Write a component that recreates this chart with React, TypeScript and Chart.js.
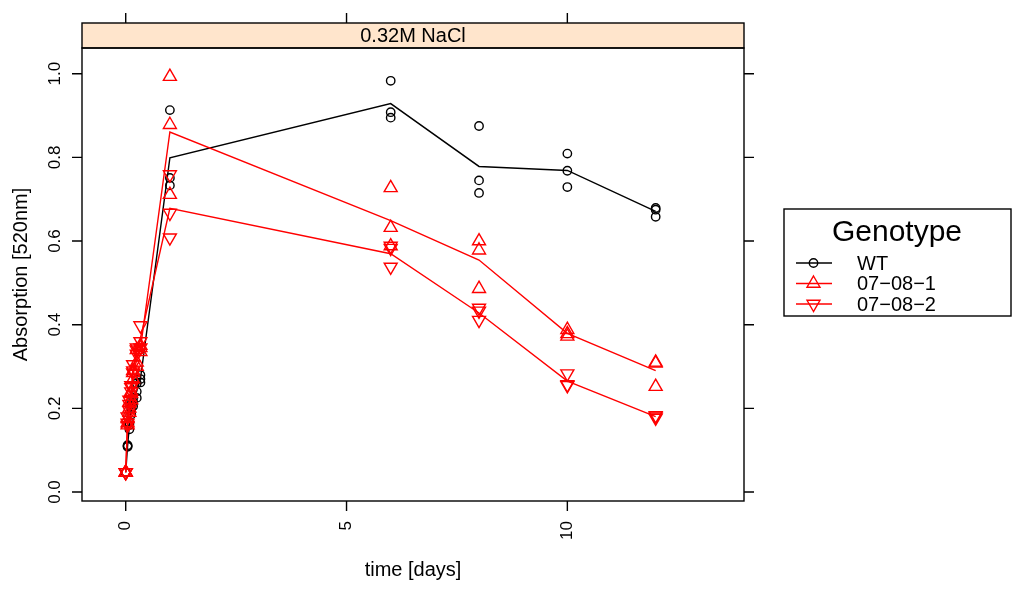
import { useEffect, useRef } from 'react'
import { Chart, registerables } from 'chart.js'
import type { Plugin } from 'chart.js'

Chart.register(...registerables)

// sampling times in days (0h, 1h, 2h, 3h, 4h, 6h, 8h, then days)
const days = [0, 0.042, 0.083, 0.125, 0.167, 0.25, 0.333, 1, 6, 8, 10, 12]

// three replicates per genotype
const wtA = [0.047, 0.108, 0.15, 0.2, 0.215, 0.225, 0.262, 0.913, 0.983, 0.875, 0.809, 0.679]
const wtB = [0.047, 0.112, 0.16, 0.185, 0.225, 0.26, 0.28, 0.751, 0.908, 0.745, 0.768, 0.658]
const wtC = [0.047, 0.11, 0.165, 0.21, 0.205, 0.24, 0.27, 0.733, 0.895, 0.715, 0.729, 0.675]

const l1A = [0.047, 0.16, 0.2, 0.24, 0.285, 0.3, 0.345, 0.993, 0.727, 0.6, 0.388, 0.31]
const l1B = [0.047, 0.175, 0.215, 0.22, 0.27, 0.34, 0.35, 0.878, 0.632, 0.578, 0.378, 0.308]
const l1C = [0.047, 0.165, 0.19, 0.235, 0.29, 0.31, 0.335, 0.711, 0.588, 0.486, 0.372, 0.252]

const l2A = [0.047, 0.165, 0.21, 0.255, 0.29, 0.33, 0.398, 0.759, 0.588, 0.44, 0.283, 0.183]
const l2B = [0.047, 0.16, 0.195, 0.24, 0.305, 0.345, 0.345, 0.667, 0.583, 0.433, 0.257, 0.18]
const l2C = [0.047, 0.18, 0.22, 0.25, 0.285, 0.34, 0.36, 0.608, 0.538, 0.411, 0.255, 0.177]

const genotypes = ['WT', '07−08−1', '07−08−2']
const xTicks = [0, 5, 10]
const yTicks = [0, 0.2, 0.4, 0.6, 0.8, 1.0]
const yTickLabels = ['0.0', '0.2', '0.4', '0.6', '0.8', '1.0']

const FONT = '"Liberation Sans", Arial, Helvetica, sans-serif'
const RED = '#ff0000'
const BLACK = '#000000'

function points(reps: number[][]) {
  return days.flatMap((d, i) => reps.map((r) => ({ x: d, y: r[i] })))
}

function means(reps: number[][]) {
  return days.map((d, i) => ({ x: d, y: reps.reduce((s, r) => s + r[i], 0) / reps.length }))
}

function marker(ctx: CanvasRenderingContext2D, kind: number, x: number, y: number) {
  ctx.beginPath()
  if (kind === 0) {
    ctx.arc(x, y, 4.2, 0, Math.PI * 2)
  } else {
    const r = 7.5
    const flip = kind === 2 ? Math.PI : 0
    for (let k = 0; k < 3; k++) {
      const a = flip + (k * 2 * Math.PI) / 3
      const px = x + Math.sin(a) * r
      const py = y - Math.cos(a) * r
      if (k === 0) ctx.moveTo(px, py)
      else ctx.lineTo(px, py)
    }
    ctx.closePath()
  }
  ctx.stroke()
}

const frame: Plugin<'scatter'> = {
  id: 'frame',
  afterDraw(chart) {
    const { ctx, chartArea: a, scales } = chart
    const xs = scales.x
    const ys = scales.y
    const stripTop = 23
    ctx.save()
    ctx.lineWidth = 1.4
    ctx.strokeStyle = BLACK

    // strip
    ctx.fillStyle = '#ffe5cc'
    ctx.fillRect(a.left, stripTop, a.right - a.left, a.top - stripTop)
    ctx.strokeRect(a.left, stripTop, a.right - a.left, a.top - stripTop)
    ctx.strokeRect(a.left, a.top, a.right - a.left, a.bottom - a.top)

    ctx.fillStyle = BLACK
    ctx.font = `20px ${FONT}`
    ctx.textAlign = 'center'
    ctx.textBaseline = 'middle'
    ctx.fillText('0.32M NaCl', (a.left + a.right) / 2, (stripTop + a.top) / 2 + 1)

    // ticks
    ctx.beginPath()
    for (const t of xTicks) {
      const px = xs.getPixelForValue(t)
      ctx.moveTo(px, a.bottom)
      ctx.lineTo(px, a.bottom + 10)
      ctx.moveTo(px, stripTop)
      ctx.lineTo(px, stripTop - 10)
    }
    for (const t of yTicks) {
      const py = ys.getPixelForValue(t)
      ctx.moveTo(a.left, py)
      ctx.lineTo(a.left - 10, py)
      ctx.moveTo(a.right, py)
      ctx.lineTo(a.right + 10, py)
    }
    ctx.stroke()

    // tick labels, rotated like lattice
    ctx.font = `17px ${FONT}`
    for (const t of xTicks) {
      const px = xs.getPixelForValue(t)
      ctx.save()
      ctx.translate(px, a.bottom + 20)
      ctx.rotate(-Math.PI / 2)
      ctx.textAlign = 'right'
      ctx.textBaseline = 'middle'
      ctx.fillText(String(t), 0, 0)
      ctx.restore()
    }
    yTicks.forEach((t, i) => {
      const py = ys.getPixelForValue(t)
      ctx.save()
      ctx.translate(a.left - 27, py)
      ctx.rotate(-Math.PI / 2)
      ctx.textAlign = 'center'
      ctx.textBaseline = 'middle'
      ctx.fillText(yTickLabels[i], 0, 0)
      ctx.restore()
    })

    // axis titles
    ctx.font = `20px ${FONT}`
    ctx.textAlign = 'center'
    ctx.textBaseline = 'middle'
    ctx.fillText('time [days]', (a.left + a.right) / 2, 570)
    ctx.save()
    ctx.translate(21, (a.top + a.bottom) / 2)
    ctx.rotate(-Math.PI / 2)
    ctx.fillText('Absorption [520nm]', 0, 0)
    ctx.restore()

    // legend
    ctx.strokeRect(784, 209, 227, 107)
    ctx.font = `30px ${FONT}`
    ctx.fillText('Genotype', 897, 233)
    ctx.font = `20px ${FONT}`
    ctx.textAlign = 'left'
    genotypes.forEach((g, i) => {
      const y = 263 + i * 20.5
      const col = i === 0 ? BLACK : RED
      ctx.strokeStyle = col
      ctx.beginPath()
      ctx.moveTo(796, y)
      ctx.lineTo(832, y)
      ctx.stroke()
      marker(ctx, i, 813.5, y)
      ctx.fillStyle = BLACK
      ctx.fillText(g, 857, y + 1)
    })
    ctx.restore()
  },
}

export default function App() {
  const canvasRef = useRef<HTMLCanvasElement | null>(null)
  const chartRef = useRef<Chart<'scatter'> | null>(null)

  useEffect(() => {
    const ctx = canvasRef.current?.getContext('2d')
    if (!ctx) return

    const wt = [wtA, wtB, wtC]
    const l1 = [l1A, l1B, l1C]
    const l2 = [l2A, l2B, l2C]

    const pointSet = (reps: number[][], color: string, style: 'circle' | 'triangle', rotation: number, radius: number) => ({
      data: points(reps),
      showLine: false,
      pointStyle: style,
      rotation,
      pointRadius: radius,
      pointBorderColor: color,
      pointBackgroundColor: 'rgba(0,0,0,0)',
      pointBorderWidth: 1.4,
    })
    const lineSet = (reps: number[][], color: string) => ({
      data: means(reps),
      showLine: true,
      borderColor: color,
      borderWidth: 1.4,
      pointRadius: 0,
    })

    chartRef.current = new Chart(ctx, {
      type: 'scatter',
      data: {
        datasets: [
          pointSet(l2, RED, 'triangle', 180, 7.5),
          lineSet(l2, RED),
          pointSet(l1, RED, 'triangle', 0, 7.5),
          lineSet(l1, RED),
          pointSet(wt, BLACK, 'circle', 0, 4.2),
          lineSet(wt, BLACK),
        ],
      },
      options: {
        animation: false,
        responsive: true,
        maintainAspectRatio: false,
        layout: { padding: { left: 82, right: 280, top: 48, bottom: 93 } },
        plugins: {
          legend: { display: false },
          tooltip: { enabled: false },
        },
        scales: {
          x: { type: 'linear', min: -0.99, max: 14.0, display: false },
          y: { type: 'linear', min: -0.0215, max: 1.0615, display: false },
        },
      },
      plugins: [frame],
    })

    return () => {
      chartRef.current?.destroy()
      chartRef.current = null
    }
  }, [])

  return (
    <div style={{ position: 'fixed', left: 0, top: 0, width: 1024, height: 594, background: '#fff' }}>
      <canvas ref={canvasRef} />
    </div>
  )
}
